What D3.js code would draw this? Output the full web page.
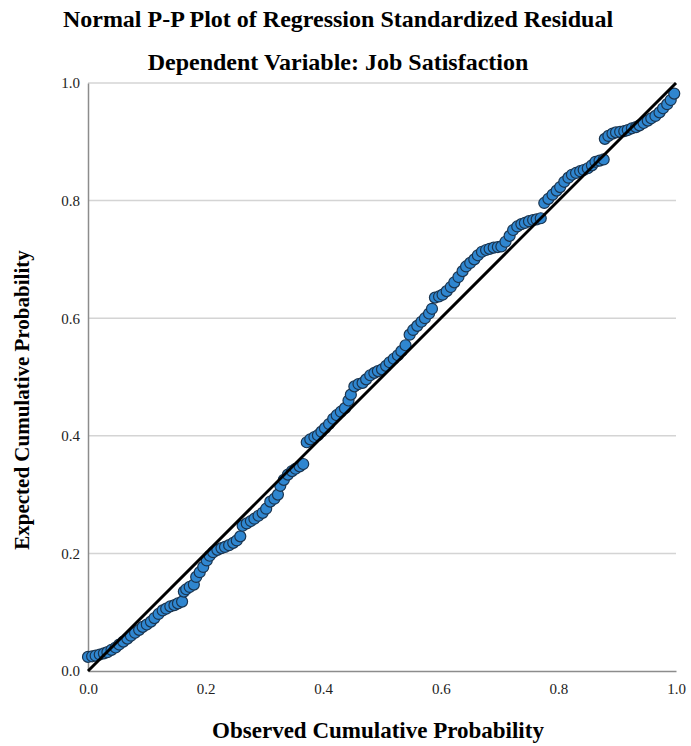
<!DOCTYPE html>
<html>
<head>
<meta charset="utf-8">
<script src="https://cdn.jsdelivr.net/npm/d3@7"></script>
<style>
  body { margin: 0; background: #fff; }
  text { font-family: "Liberation Serif", "Times New Roman", serif; }
</style>
</head>
<body>
<div id="pp-plot"></div>
<script>
// tick values on both axes
var tickValues = [0, 0.2, 0.4, 0.6, 0.8, 1.0];

// observed cumulative probability (x)
var observed = [
  0.000, 0.007, 0.013, 0.020, 0.027, 0.033, 0.040, 0.047, 0.053, 0.060,
  0.067, 0.073, 0.080, 0.087, 0.093, 0.100, 0.107, 0.113, 0.120, 0.127,
  0.133, 0.140, 0.147, 0.153, 0.160, 0.163, 0.167, 0.173, 0.180, 0.184,
  0.190, 0.196, 0.202, 0.207, 0.213, 0.220, 0.227, 0.233, 0.240, 0.247,
  0.253, 0.259, 0.263, 0.270, 0.277, 0.283, 0.290, 0.297, 0.303, 0.310,
  0.317, 0.323, 0.327, 0.333, 0.340, 0.347, 0.353, 0.360, 0.366, 0.372,
  0.378, 0.385, 0.391, 0.397, 0.403, 0.410, 0.417, 0.423, 0.430, 0.437,
  0.443, 0.447, 0.453, 0.460, 0.467, 0.473, 0.480, 0.487, 0.493, 0.500,
  0.507, 0.513, 0.520, 0.527, 0.533, 0.540, 0.547, 0.553, 0.560, 0.567,
  0.573, 0.580, 0.585, 0.590, 0.597, 0.603, 0.610, 0.617, 0.623, 0.630,
  0.637, 0.643, 0.650, 0.657, 0.663, 0.670, 0.677, 0.683, 0.690, 0.697,
  0.703, 0.710, 0.717, 0.723, 0.730, 0.737, 0.743, 0.750, 0.757, 0.763,
  0.770, 0.776, 0.783, 0.790, 0.797, 0.803, 0.810, 0.817, 0.823, 0.830,
  0.837, 0.843, 0.850, 0.857, 0.863, 0.870, 0.877, 0.879, 0.885, 0.892,
  0.898, 0.905, 0.912, 0.918, 0.925, 0.932, 0.938, 0.945, 0.952, 0.958,
  0.965, 0.972, 0.978, 0.985, 0.991, 0.997
];

// expected cumulative probability (y)
var expected = [
  0.024, 0.025, 0.026, 0.028, 0.030, 0.032, 0.036, 0.040, 0.045, 0.050,
  0.055, 0.060, 0.065, 0.070, 0.075, 0.079, 0.084, 0.090, 0.097, 0.103,
  0.106, 0.110, 0.112, 0.115, 0.118, 0.135, 0.139, 0.143, 0.147, 0.160,
  0.168, 0.177, 0.188, 0.196, 0.202, 0.206, 0.209, 0.211, 0.214, 0.218,
  0.222, 0.229, 0.247, 0.251, 0.255, 0.259, 0.264, 0.269, 0.276, 0.288,
  0.293, 0.300, 0.315, 0.325, 0.334, 0.340, 0.344, 0.348, 0.352, 0.389,
  0.394, 0.398, 0.401, 0.407, 0.413, 0.420, 0.429, 0.435, 0.441, 0.447,
  0.460, 0.470, 0.484, 0.488, 0.490, 0.496, 0.503, 0.507, 0.510, 0.513,
  0.519, 0.525, 0.531, 0.537, 0.544, 0.554, 0.572, 0.580, 0.587, 0.594,
  0.600, 0.608, 0.616, 0.635, 0.637, 0.640, 0.646, 0.653, 0.661, 0.670,
  0.680, 0.688, 0.694, 0.700, 0.707, 0.713, 0.716, 0.718, 0.720, 0.721,
  0.722, 0.730, 0.740, 0.750, 0.756, 0.760, 0.762, 0.765, 0.767, 0.768,
  0.770, 0.796, 0.803, 0.810, 0.817, 0.823, 0.832, 0.839, 0.844, 0.847,
  0.850, 0.852, 0.855, 0.860, 0.866, 0.868, 0.870, 0.905, 0.910, 0.914,
  0.916, 0.917, 0.918, 0.920, 0.923, 0.925, 0.928, 0.932, 0.936, 0.940,
  0.944, 0.950, 0.957, 0.964, 0.971, 0.982
];

var points = observed.map(function(d, i) { return {x: d, y: expected[i]}; });

// set dimensions margins of graph
var margin = {top: 83, right: 15, bottom: 75, left: 88},
    width = 691 - margin.left - margin.right,
    height = 746 - margin.top - margin.bottom;

var svgRoot = d3.select("#pp-plot")
  .append("svg")
    .attr("width", 691)
    .attr("height", 746);

// titles
svgRoot.append("text")
  .attr("x", 338).attr("y", 27)
  .attr("text-anchor", "middle")
  .attr("font-size", 24).attr("font-weight", "bold")
  .text("Normal P-P Plot of Regression Standardized Residual");

svgRoot.append("text")
  .attr("x", 338).attr("y", 70)
  .attr("text-anchor", "middle")
  .attr("font-size", 24).attr("font-weight", "bold")
  .text("Dependent Variable: Job Satisfaction");

var svg = svgRoot.append("g")
  .attr("transform", "translate(" + margin.left + "," + margin.top + ")");

var x = d3.scaleLinear().domain([0, 1]).range([0, width]);
var y = d3.scaleLinear().domain([0, 1]).range([height, 0]);

// horizontal gridlines
svg.append("g")
  .selectAll("line")
  .data(tickValues.slice(1))
  .enter().append("line")
    .attr("x1", 0).attr("x2", width)
    .attr("y1", function(d) { return y(d); })
    .attr("y2", function(d) { return y(d); })
    .attr("stroke", "#d4d4d4")
    .attr("stroke-width", 1.5);

// X axis
var xAxis = svg.append("g")
  .attr("transform", "translate(0," + height + ")")
  .call(d3.axisBottom(x).tickValues(tickValues).tickSize(0).tickPadding(12).tickFormat(d3.format(".1f")));
xAxis.select(".domain").attr("stroke", "#8c8c8c").attr("stroke-width", 1.5);
xAxis.selectAll("text").attr("font-size", 15).attr("fill", "#222")
  .style("font-family", "'Liberation Serif', serif");

// Y axis
var yAxis = svg.append("g")
  .call(d3.axisLeft(y).tickValues(tickValues).tickSize(0).tickPadding(8).tickFormat(d3.format(".1f")));
yAxis.select(".domain").attr("stroke", "#8c8c8c").attr("stroke-width", 1.5);
yAxis.selectAll("text").attr("font-size", 15).attr("fill", "#222")
  .style("font-family", "'Liberation Serif', serif");

// axis titles
svgRoot.append("text")
  .attr("x", margin.left + width / 2 - 4).attr("y", 738)
  .attr("text-anchor", "middle")
  .attr("font-size", 23).attr("font-weight", "bold")
  .text("Observed Cumulative Probability");

svgRoot.append("text")
  .attr("transform", "translate(29,400) rotate(-90)")
  .attr("text-anchor", "middle")
  .attr("font-size", 21).attr("font-weight", "bold")
  .text("Expected Cumulative Probability");

// points
svg.append("g")
  .selectAll("circle")
  .data(points)
  .enter().append("circle")
    .attr("cx", function(d) { return x(d.x); })
    .attr("cy", function(d) { return y(d.y); })
    .attr("r", 5.5)
    .attr("fill", "#2f86d0")
    .attr("stroke", "#1a3550")
    .attr("stroke-width", 1.2);

// reference line
svg.append("path")
  .datum([0, 1])
  .attr("fill", "none")
  .attr("stroke", "#000")
  .attr("stroke-width", 3)
  .attr("d", d3.line()
    .x(function(d) { return x(d); })
    .y(function(d) { return y(d); }));
</script>
</body>
</html>
